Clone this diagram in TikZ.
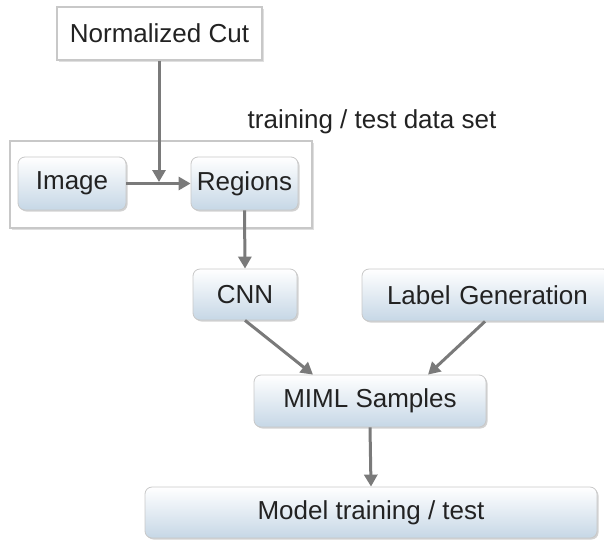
\documentclass[tikz,border=0pt]{standalone}
\usepackage{fontspec}
\setmainfont{Liberation Sans}
\usetikzlibrary{arrows.meta,shadows,calc}
\definecolor{arrowgray}{HTML}{7A7A7A}
\definecolor{boxblue}{HTML}{C6D7E6}
\definecolor{framegray}{HTML}{C8C8C8}
\definecolor{txt}{HTML}{222222}
\tikzset{
  procbox/.style={rectangle, rounded corners=7pt, draw=framegray, line width=0.8pt,
    top color=white, bottom color=boxblue, text=txt, font=\fontsize{26}{30}\selectfont,
    drop shadow={shadow xshift=1.5pt, shadow yshift=-1.5pt, opacity=0.35}, inner sep=0pt},
  framebox/.style={rectangle, draw=framegray, line width=1.6pt, fill=white,
    drop shadow={shadow xshift=1.5pt, shadow yshift=-1.5pt, opacity=0.25}, inner sep=0pt},
  flow/.style={draw=arrowgray, line width=3pt, -{Triangle[length=12pt,width=13pt]}},
}
\begin{document}
\begin{tikzpicture}[x=1pt,y=-1pt]
\useasboundingbox (0,0) rectangle (604,541);
\clip (0,0) rectangle (604,541);
% outer training/test frame
\node[framebox, minimum width=302pt, minimum height=87pt] (frame) at (161,184.5) {};
\node[text=txt, font=\fontsize{26}{30}\selectfont, anchor=base] (tlabel) at (372,128) {training / test data set};
% nodes
\node[framebox, minimum width=205pt, minimum height=53pt, text=txt, font=\fontsize{26}{30}\selectfont] (ncut) at (159.5,33.5) {Normalized Cut};
\node[procbox, minimum width=108pt, minimum height=53pt] (image) at (72,183.5) {Image};
\node[procbox, minimum width=107pt, minimum height=53pt] (regions) at (244.5,183.5) {Regions};
\node[procbox, minimum width=104pt, minimum height=51pt] (cnn) at (245,294.5) {CNN};
\node[procbox, minimum width=248pt, minimum height=52pt, text width=242pt, align=left] (label) at (486,295) {\hspace{22pt}Label Generation};
\node[procbox, minimum width=232pt, minimum height=52pt] (miml) at (370,401) {MIML Samples};
\node[procbox, minimum width=452pt, minimum height=51pt] (model) at (371,512.5) {Model training / test};
\coordinate (join) at (159,182);
\coordinate (m1) at ($(miml.north)+(-57,0)$);
\coordinate (m2) at ($(miml.north)+(58,0)$);
\coordinate (l1) at ($(label.south)+(-1,0)$);
% connectors
\draw[flow] (image.east) -- (regions.west);
\draw[flow] (ncut.south -| join) -- (join);
\draw[flow] (regions.south) -- (cnn.north);
\draw[flow] (cnn.south) -- (m1);
\draw[flow] (l1) -- (m2);
\draw[flow] (miml.south) -- (model.north);
\end{tikzpicture}
\end{document}
